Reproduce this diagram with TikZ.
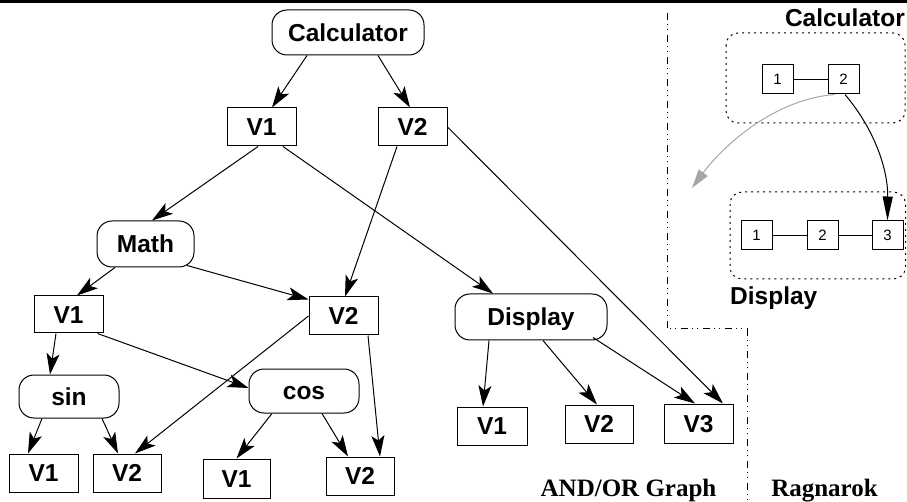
\documentclass[tikz,border=0pt]{standalone}
\usepackage{fontspec}
\setmainfont{Liberation Sans}
\newfontfamily\timesfont{Liberation Serif}
\usetikzlibrary{arrows.meta}
\tikzset{
  bigtxt/.style={font=\fontsize{24.5pt}{26pt}\selectfont\bfseries},
  vbox/.style={draw, line width=1pt, rectangle, bigtxt, minimum width=69pt, minimum height=38pt, inner sep=0pt, text height=17.5pt, text depth=0pt},
  rbox/.style={draw, line width=1pt, rectangle, rounded corners=15pt, bigtxt, minimum height=45pt, inner sep=0pt, text height=17.5pt, text depth=0pt},
  edge/.style={line width=1pt, -{Stealth[length=21pt,width=13pt,inset=5pt]}},
  sbox/.style={draw, line width=1pt, rectangle, minimum width=31pt, minimum height=29pt, inner sep=0pt, font=\fontsize{15pt}{16pt}\selectfont, text height=11pt, text depth=0pt},
  dotbox/.style={line width=1pt, dash pattern=on 2pt off 4pt, rounded corners=12pt},
  sep/.style={line width=1pt, dash pattern=on 7pt off 4pt on 1pt off 4pt on 1pt off 5pt},
  caption/.style={font=\timesfont\fontsize{25pt}{26pt}\selectfont\bfseries, inner sep=0pt, anchor=base},
  lbl/.style={bigtxt, inner sep=0pt},
}
\begin{document}
\begin{tikzpicture}[x=1pt,y=-1pt]
\useasboundingbox (0,0) rectangle (907,502);
\fill (0,0) rectangle (907,2.8);

% AND/OR graph nodes
\node[rbox, minimum width=152pt] (calc) at (348,32.5) {Calculator};
\node[vbox] (v1t) at (261.5,127) {V1};
\node[vbox] (v2t) at (412.5,127) {V2};
\node[rbox, minimum width=97pt, minimum height=46pt] (math) at (145.5,244) {Math};
\node[vbox, minimum height=37pt] (v1m) at (68.5,314.5) {V1};
\node[vbox] (v2m) at (343.5,316) {V2};
\node[rbox, minimum width=100pt, minimum height=43pt] (sin) at (69,396.5) {sin};
\node[rbox, minimum width=110pt, minimum height=44pt] (cos) at (304,391) {cos};
\node[vbox] (v1s) at (43.5,473) {V1};
\node[vbox, minimum width=68pt] (v2s) at (127,473) {V2};
\node[vbox, minimum width=67pt, minimum height=39pt] (v1c) at (236.5,478.5) {V1};
\node[vbox, minimum width=68pt] (v2c) at (360,476) {V2};
\node[rbox, minimum width=152pt, minimum height=46pt] (disp) at (531,317) {Display};
\node[vbox, minimum width=70pt] (v1d) at (492,426) {V1};
\node[vbox, minimum width=68pt] (v2d) at (599,424) {V2};
\node[vbox, minimum height=39pt] (v3d) at (698.5,423.5) {V3};

% edges
\draw[edge] ([xshift=-41pt]calc.south) -- ([xshift=10.5pt]v1t.north);
\draw[edge] ([xshift=30pt]calc.south) -- ([xshift=-2.5pt]v2t.north);
\draw[edge] ([xshift=-3.5pt]v1t.south) -- ([xshift=6.5pt]math.north);
\draw[edge] ([xshift=21.5pt]v1t.south) -- ([xshift=-38pt]disp.north);
\draw[edge] ([xshift=-15.5pt]v2t.south) -- ([xshift=1.5pt]v2m.north);
\draw[edge] (v2t.east) -- ([xshift=24.5pt]v3d.north);
\draw[edge] ([xshift=-30.5pt]math.south) -- ([xshift=8.5pt]v1m.north);
\draw[edge] ([xshift=41.5pt,yshift=2pt]math.south) -- ([yshift=-3pt]v2m.north west);
\draw[edge] ([xshift=-12.5pt]v1m.south) -- ([xshift=-19pt]sin.north);
\draw[edge] ([xshift=-6pt]v1m.south east) -- ([yshift=3pt]cos.west);
\draw[edge] (v2m.west) -- ([xshift=8pt]v2s.north);
\draw[edge] ([xshift=24.5pt]v2m.south) -- ([xshift=20pt]v2c.north);
\draw[edge] ([xshift=-27pt]sin.south) -- ([xshift=-15.5pt]v1s.north);
\draw[edge] ([xshift=33pt]sin.south) -- ([xshift=-9pt]v2s.north);
\draw[edge] ([xshift=-32pt]cos.south) -- (v1c.north);
\draw[edge] ([xshift=18pt]cos.south) -- ([xshift=-12pt]v2c.north);
\draw[edge] ([xshift=-42pt]disp.south) -- ([xshift=-9pt]v1d.north);
\draw[edge] ([xshift=12pt]disp.south) -- ([xshift=-2pt]v2d.north);
\draw[edge] ([xshift=62pt,yshift=3pt]disp.south) -- ([xshift=-3.5pt]v3d.north);

% separator
\draw[sep] (667,13) -- (667,329) -- (747,329) -- (747,502);

% captions
\node[caption] (cap1) at (628.5,496) {AND/OR Graph};
\node[caption] (cap2) at (824.5,496) {Ragnarok};

% Ragnarok side
\node[lbl, anchor=base east] (rcalc) at (905,27) {Calculator};
\node[lbl, anchor=base west] (rdisp) at (730,305) {Display};
\draw[dotbox] (726,33) rectangle (905,123);
\draw[dotbox] (730,192) rectangle (905.5,279);
\node[sbox] (r1) at (777.5,79.5) {1};
\node[sbox] (r2) at (843.5,79.5) {2};
\node[sbox] (b1) at (756.5,235.5) {1};
\node[sbox] (b2) at (822.5,235.5) {2};
\node[sbox] (b3) at (887.5,235.5) {3};
\draw[line width=1pt] (r1) -- (r2);
\draw[line width=1pt] (b1) -- (b2);
\draw[line width=1pt] (b2) -- (b3);
\coordinate (gend) at (692,188);
\draw[line width=1pt, gray!70, -{Triangle[length=19pt,width=11pt]}] ([xshift=-9pt]r2.south) .. controls (770,100) and (720,150) .. (gend);
\draw[line width=1pt, -{Triangle[length=24pt,width=10pt]}] ([xshift=1.5pt]r2.south) .. controls (875,130) and (888,170) .. (b3.north);
\end{tikzpicture}
\end{document}
